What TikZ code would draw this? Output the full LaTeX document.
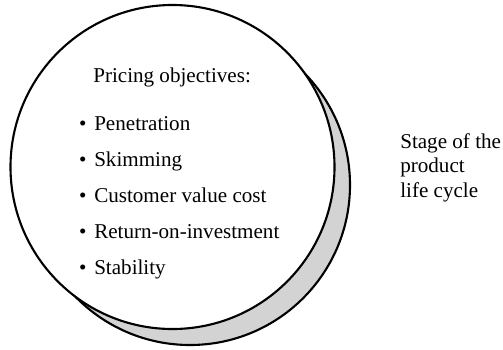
\documentclass[tikz,border=0pt]{standalone}
\usepackage{fontspec}
\setmainfont{Liberation Serif}
\usepackage{tikz}

\definecolor{shadowgray}{RGB}{211,211,211}

\begin{document}
\begin{tikzpicture}[
    x=0.025cm, y=-0.025cm,
    disc/.style={
        draw=black,
        line width=1.5pt,
        fill=white
    },
    backdisc/.style={
        draw=black,
        line width=1.5pt,
        fill=shadowgray
    },
    heading/.style={
        anchor=base west,
        inner sep=0pt,
        font=\fontsize{15}{18}\selectfont
    },
    item/.style={
        anchor=base west,
        inner sep=0pt,
        font=\fontsize{15}{18}\selectfont
    },
    stage/.style={
        anchor=base west,
        inner sep=0pt,
        align=left,
        font=\fontsize{15}{17.4}\selectfont
    }
]

\useasboundingbox (0,0) rectangle (503,349);

\fill[white] (0,0) rectangle (503,349);

\draw[backdisc] (190,185) circle[radius=160];
\draw[disc] (172.5,167) circle[radius=162];

\node[heading] (title) at (93,82) {Pricing objectives:};

\node[item] (penetration) at (94,130) {\llap{\textbullet\hspace{0.37em}}Penetration};
\node[item] (skimming) at (94,166) {\llap{\textbullet\hspace{0.37em}}Skimming};
\node[item] (customer) at (94,202) {\llap{\textbullet\hspace{0.37em}}Customer value cost};
\node[item] (roi) at (94,238) {\llap{\textbullet\hspace{0.37em}}Return-on-investment};
\node[item] (stability) at (94,274) {\llap{\textbullet\hspace{0.37em}}Stability};

% base of a multi-line node is its last line
\node[stage] (lifecycle) at (400,197) {Stage of the\\product\\life cycle};

\end{tikzpicture}
\end{document}
